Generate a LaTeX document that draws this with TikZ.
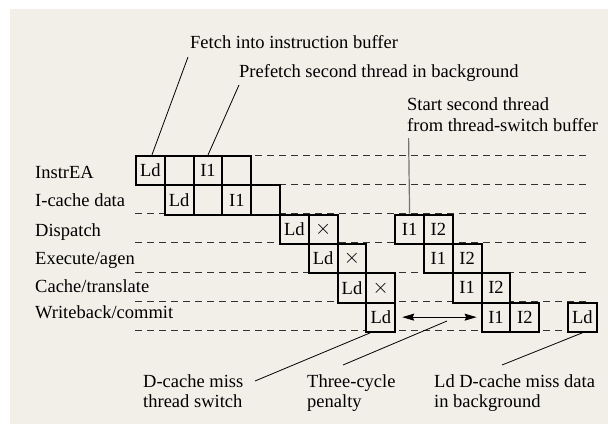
\documentclass[tikz,border=0pt]{standalone}
\usepackage{fontspec}
\setmainfont{Liberation Serif}
\usetikzlibrary{arrows.meta}
\definecolor{paper}{RGB}{242,239,233}
\begin{document}
\begin{tikzpicture}[x=1pt,y=-1pt,
  txt/.style={font=\fontsize{18.5}{20}\selectfont},
  cell/.style={txt, draw=black, line width=2pt, fill=paper,
    minimum width=28.8pt, minimum height=29.3pt, inner sep=0pt, anchor=north west},
  lbl/.style={txt, anchor=base west, inner sep=0pt},
  guide/.style={draw=black!80, line width=1pt, dash pattern=on 7pt off 5pt},
  leader/.style={draw=black, line width=0.8pt}]
\useasboundingbox (0,0) rectangle (608,424);
\fill[paper] (10,9) rectangle (608,424);

% pipeline stage boundaries
\foreach \k in {0,...,6}
  \draw[guide] (135,{155+\k*29.3}) -- (590,{155+\k*29.3});

% stage names
\node[lbl] (sInstr) at (35,178) {InstrEA};
\node[lbl] (sIcache) at (35,206.7) {I-cache data};
\node[lbl] (sDisp) at (35,236) {Dispatch};
\node[lbl] (sExec) at (35,264) {Execute/agen};
\node[lbl] (sCache) at (35,292) {Cache/translate};
\node[lbl] (sWb) at (35,318) {Writeback/commit};

% pipeline cells: column c, row r
\newcommand\pcell[4]{\node[cell] (#1) at ({135+#2*28.8},{155+#3*29.3}) {#4};}
\newcommand\killed{{\fontsize{22}{22}\selectfont$\times$}}
\pcell{a0}{0}{0}{Ld}
\pcell{a1}{1}{0}{}
\pcell{a2}{2}{0}{I1}
\pcell{a3}{3}{0}{}
\pcell{b1}{1}{1}{Ld}
\pcell{b2}{2}{1}{}
\pcell{b3}{3}{1}{I1}
\pcell{b4}{4}{1}{}
\pcell{c5}{5}{2}{Ld}
\pcell{c6}{6}{2}{\killed}
\pcell{c9}{9}{2}{I1}
\pcell{c10}{10}{2}{I2}
\pcell{d6}{6}{3}{Ld}
\pcell{d7}{7}{3}{\killed}
\pcell{d10}{10}{3}{I1}
\pcell{d11}{11}{3}{I2}
\pcell{e7}{7}{4}{Ld}
\pcell{e8}{8}{4}{\killed}
\pcell{e11}{11}{4}{I1}
\pcell{e12}{12}{4}{I2}
\pcell{f8}{8}{5}{Ld}
\pcell{f12}{12}{5}{I1}
\pcell{f13}{13}{5}{I2}
\pcell{f15}{15}{5}{Ld}

% annotations above
\node[lbl] (tFetch) at (190,48) {Fetch into instruction buffer};
\node[lbl] (tPre) at (239,77) {Prefetch second thread in background};
\node[lbl] (tStart1) at (407,110) {Start second thread};
\node[lbl] (tStart2) at (407,131) {from thread-switch buffer};
\coordinate (pFetch) at (188,57);
\coordinate (pPre) at (239,85);
\coordinate (pStart) at (408.6,138);
\draw[leader] ([xshift=1.5pt]a0.north) -- (pFetch);
\draw[leader] (a2.north) -- (pPre);
\draw[leader, draw=black!55, line width=1.2pt] (pStart) -- (c9.north);

% annotations below
\node[lbl] (tMiss1) at (143,387) {D-cache miss};
\node[lbl] (tMiss2) at (143,407) {thread switch};
\node[lbl] (tPen1) at (307,387) {Three-cycle};
\node[lbl] (tPen2) at (307,407) {penalty};
\node[lbl] (tBg1) at (434,387) {Ld D-cache miss data};
\node[lbl] (tBg2) at (434,407) {in background};
\coordinate (pMiss) at (255,381);
\coordinate (pPenA) at (447,321);
\coordinate (pPenB) at (343,365);
\coordinate (pBg) at (502,365);
\draw[leader] ([xshift=-10.5pt]f8.south) -- (pMiss);
\draw[leader] (pPenA) -- (pPenB);
\draw[leader] (f15.south) -- (pBg);

% penalty span
\draw[line width=0.9pt, {Stealth[length=12pt,width=7pt,inset=1.5pt]}-{Stealth[length=12pt,width=7pt,inset=1.5pt]}]
  ([xshift=6pt]f8.east) -- ([xshift=-4pt]f12.west);
\end{tikzpicture}
\end{document}
